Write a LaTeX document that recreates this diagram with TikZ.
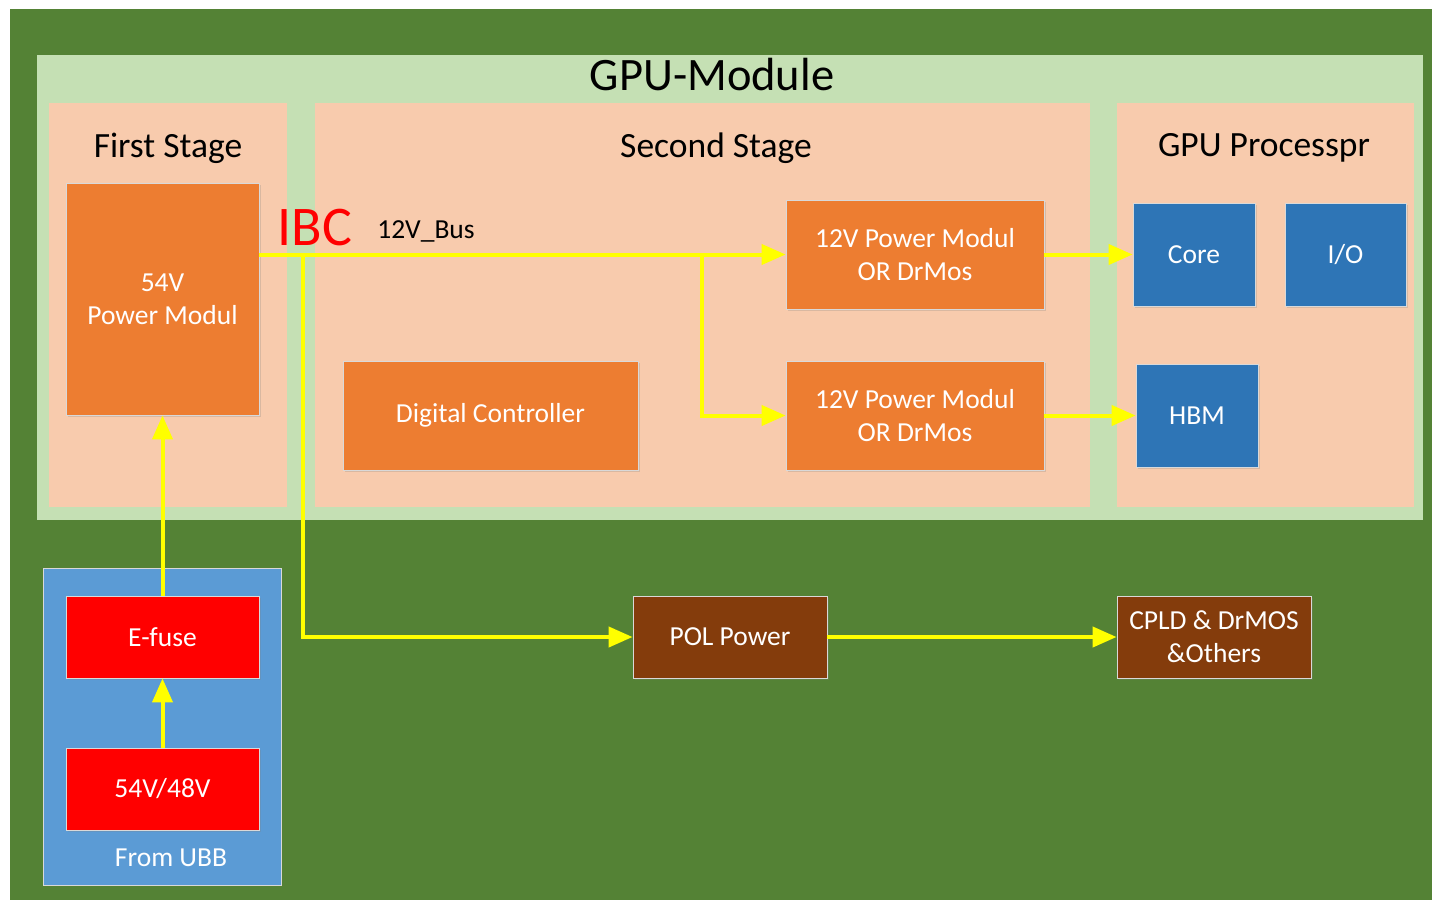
\documentclass[tikz,border=0pt]{standalone}
\usepackage{fontspec}
\setmainfont{Carlito}
\usetikzlibrary{arrows.meta,positioning,shadows}
\definecolor{boardgreen}{RGB}{84,130,53}
\definecolor{modgreen}{RGB}{197,224,180}
\definecolor{stagepeach}{RGB}{248,203,173}
\definecolor{pmorange}{RGB}{237,125,49}
\definecolor{gpublue}{RGB}{46,117,182}
\definecolor{ubbblue}{RGB}{91,155,213}
\definecolor{polbrown}{RGB}{132,60,12}
\definecolor{railyellow}{RGB}{255,255,0}

\begin{document}
\begin{tikzpicture}[x=1pt, y=-1pt, font=\fontsize{27.5}{33}\selectfont,
    panel/.style={rectangle, inner sep=0pt, draw=none},
    blockbox/.style={rectangle, inner sep=0pt, align=center, text=white,
                     draw=white!70!gray, line width=0.8pt,
                     drop shadow={shadow xshift=2pt, shadow yshift=-2pt, opacity=0.25}},
    caption/.style={inner sep=0pt, font=\fontsize{35.5}{40}\selectfont},
    rail/.style={draw=railyellow, line width=4pt, -{Triangle[length=24pt, width=20pt]}}]
  % page and board
  \useasboundingbox (0,0) rectangle (1432,900);
  \fill[white] (0,0) rectangle (1432,900);
  \fill[boardgreen] (10,9) rectangle (1432,900);

  % GPU module and its stages
  \node[panel, fill=modgreen, minimum width=1386pt, minimum height=465pt] (gpumod) at (730,287.5) {};
  \node[panel, fill=stagepeach, minimum width=238pt, minimum height=404pt] (first) at (168,305) {};
  \node[panel, fill=stagepeach, minimum width=775pt, minimum height=404pt] (second) at (702.5,305) {};
  \node[panel, fill=stagepeach, minimum width=297pt, minimum height=404pt] (gpuproc) at (1265.5,305) {};
  \node[caption, font=\fontsize{46.5}{50}\selectfont] (gpumodlbl) at (712,75) {GPU-Module};
  \node[caption] (firstlbl) at (168,148) {First Stage};
  \node[caption] (secondlbl) at (716,148) {Second Stage};
  \node[caption] (gpuproclbl) at (1264,148) {GPU Processpr};

  % blocks
  \node[blockbox, fill=pmorange, minimum width=193pt, minimum height=232pt] (pm54) at (162.5,299) {54V\\Power Modul};
  \node[blockbox, fill=pmorange, minimum width=295pt, minimum height=109pt] (digital) at (490.5,415.5) {Digital Controller};
  \node[blockbox, fill=pmorange, minimum width=258pt, minimum height=109pt] (pm12a) at (915,254.5) {12V Power Modul\\OR DrMos};
  \node[blockbox, fill=pmorange, minimum width=258pt, minimum height=109pt] (pm12b) at (915,415.5) {12V Power Modul\\OR DrMos};
  \node[blockbox, fill=gpublue, minimum width=122pt, minimum height=103pt] (core) at (1194,254.5) {Core};
  \node[blockbox, fill=gpublue, minimum width=121pt, minimum height=103pt] (io) at (1345.5,254.5) {I/O};
  \node[blockbox, fill=gpublue, minimum width=122pt, minimum height=103pt] (hbm) at (1197,415.5) {HBM};

  % UBB input
  \node[panel, fill=ubbblue, draw=white!70!gray, line width=0.8pt, minimum width=238pt, minimum height=317pt] (ubb) at (162,726.5) {};
  \node[caption, text=white, font=\fontsize{27.5}{30}\selectfont] (ubblbl) at (171,858) {From UBB};
  \node[blockbox, fill=red, minimum width=193pt, minimum height=82pt] (efuse) at (162.5,637) {E-fuse};
  \node[blockbox, fill=red, minimum width=193pt, minimum height=82pt] (vin) at (162.5,789) {54V/48V};

  % POL path
  \node[blockbox, fill=polbrown, minimum width=194pt, minimum height=82pt] (pol) at (730,637) {POL Power};
  \node[blockbox, fill=polbrown, minimum width=194pt, minimum height=82pt] (cpld) at (1214,637) {CPLD \& DrMOS\\\&Others};

  % bus labels
  \node[caption, text=red, font=\fontsize{56}{60}\selectfont] (ibc) at (315,228) {IBC};
  \node[caption, font=\fontsize{27.5}{30}\selectfont] (buslbl) at (426,231) {12V\_Bus};

  % rails
  \coordinate (tap) at (303,254.5);
  \coordinate (split) at (702,254.5);
  \draw[rail] (pm54.east |- pm12a.west) -- (pm12a.west);
  \draw[rail] (split) |- (pm12b.west);
  \draw[rail] (tap) |- (pol.west);
  \draw[rail] (pm12a.east) -- (core.west);
  \draw[rail] (pm12b.east) -- (hbm.west);
  \draw[rail] (pol.east) -- (cpld.west);
  \draw[rail] (vin.north) -- (efuse.south);
  \draw[rail] (efuse.north) -- (pm54.south);
\end{tikzpicture}
\end{document}
